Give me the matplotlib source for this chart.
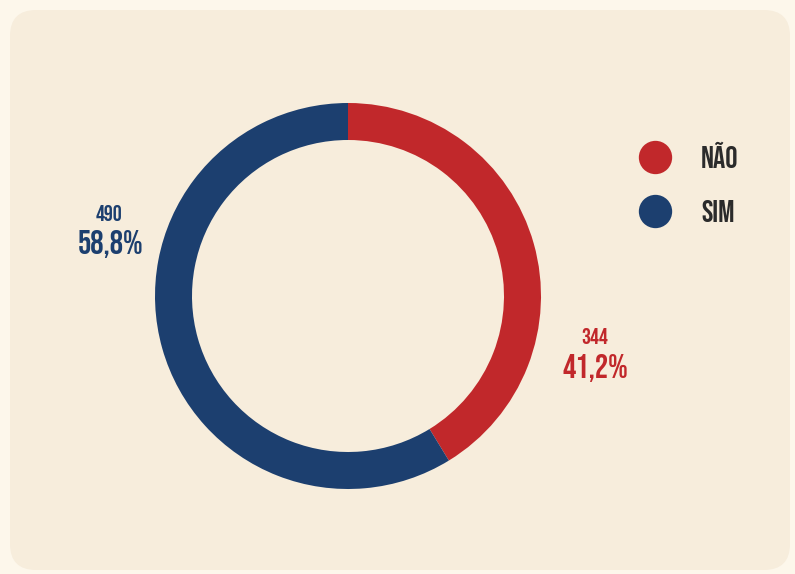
import matplotlib.pyplot as plt
from matplotlib.patches import FancyBboxPatch
from matplotlib.lines import Line2D

labels = ["NÃO", "SIM"]
counts = [344, 490]
percents = ["41,2%", "58,8%"]
colors = ["#c1282b", "#1c3f6f"]

fnt = ["Bebas Neue", "DejaVu Sans"]

fig = plt.figure(figsize=(7.95, 5.74), dpi=100)
fig.patch.set_facecolor("#fdf7eb")
ax = fig.add_axes([0, 0, 1, 1])

# card background
card = FancyBboxPatch((10, 4), 780, 560, boxstyle="round,pad=0,rounding_size=26",
                      facecolor="#f7eddc", edgecolor="none", zorder=0)
ax.add_patch(card)

# donut
wedges, _ = ax.pie(counts, colors=colors, startangle=90, counterclock=False,
                   center=(348, 278), radius=193, frame=True,
                   wedgeprops=dict(width=37, edgecolor="none"))
ax.set_xlim(0, 795)
ax.set_ylim(0, 574)
ax.set_aspect("equal")
ax.axis("off")

# value labels
ax.text(595, 238, str(counts[0]), color=colors[0], fontsize=16,
        family=fnt, ha="center", va="center")
ax.text(595, 206, percents[0], color=colors[0], fontsize=24,
        family=fnt, ha="center", va="center")
ax.text(109, 361, str(counts[1]), color=colors[1], fontsize=16,
        family=fnt, ha="center", va="center")
ax.text(111, 330, percents[1], color=colors[1], fontsize=24,
        family=fnt, ha="center", va="center")

# legend
handles = [Line2D([], [], marker="o", linestyle="none", markersize=24,
                  markerfacecolor=c, markeredgecolor="none") for c in colors]
leg = ax.legend(handles, labels, loc="upper left", bbox_to_anchor=(0.751, 0.801),
                frameon=False, handletextpad=0.5, labelspacing=1.05,
                prop=dict(family=fnt, size=22), labelcolor="#2b2b2b")

fig.savefig("out.png", dpi=100, facecolor=fig.get_facecolor())
